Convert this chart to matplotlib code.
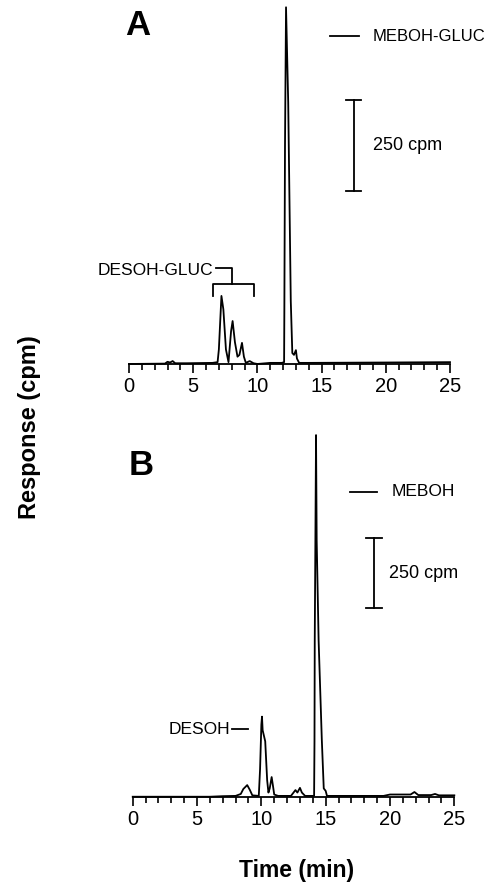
import matplotlib
matplotlib.use("Agg")
import matplotlib.pyplot as plt
from matplotlib.ticker import MultipleLocator

plt.rcParams["font.family"] = ["Liberation Sans", "DejaVu Sans"]

# panel A: glucuronide chromatogram (time in min, response in cpm)
a_time = [0, 2.8, 3.0, 3.2, 3.4, 3.6, 4.5, 6.5, 6.9, 7.0, 7.2, 7.35, 7.55, 7.75,
          7.95, 8.07, 8.25, 8.45, 8.6, 8.8, 8.95, 9.1, 9.4, 9.7, 10.0, 11.0,
          11.9, 12.08, 12.1, 12.15, 12.23, 12.4, 12.5, 12.6, 12.72, 12.85,
          13.0, 13.08, 13.25, 14.0, 20.0, 25.0]
a_cpm = [0, 1, 6, 4, 8, 2, 2, 3, 5, 40, 187, 150, 40, 5,
         90, 118, 60, 20, 25, 58, 20, 3, 8, 2, 0, 3,
         3, 5, 150, 600, 980, 719, 445, 173, 30, 25,
         38, 15, 3, 3, 4, 5]

# panel B: aglycone chromatogram
b_time = [0, 6.0, 7.0, 8.0, 8.4, 8.6, 8.75, 8.9, 9.1, 9.3, 9.8, 9.9, 10.0,
          10.05, 10.1, 10.3, 10.45, 10.55, 10.65, 10.8, 10.9, 11.0, 11.3,
          12.3, 12.5, 12.65, 12.8, 13.0, 13.15, 13.4, 14.1, 14.13, 14.15,
          14.2, 14.25, 14.3, 14.45, 14.7, 14.85, 15.0, 15.1, 19.5, 20.0,
          21.6, 21.9, 22.2, 23.2, 23.5, 23.8, 25.0]
b_cpm = [0, 0, 2, 3, 10, 28, 35, 42, 25, 5, 3, 100, 260,
         289, 240, 200, 60, 15, 30, 71, 40, 8, 3,
         3, 15, 24, 15, 32, 15, 3, 3, 200, 565,
         925, 1305, 925, 565, 205, 30, 21, 3, 3, 8,
         8, 17, 6, 6, 10, 5, 5]

x_ticks = [0, 5, 10, 15, 20, 25]
scale_cpm = 250
LW = 1.3

fig = plt.figure(figsize=(4.91, 8.83), dpi=100)
ax_a = fig.add_axes([0.2627, 0.5878, 0.6538, 0.4122])
ax_b = fig.add_axes([0.2703, 0.0977, 0.6550, 0.4237])


def style_axis(ax, ytop):
    ax.set_xlim(0, 25)
    ax.set_ylim(0, ytop)
    for s in ("left", "right", "top"):
        ax.spines[s].set_visible(False)
    ax.spines["bottom"].set_linewidth(1.3)
    ax.set_yticks([])
    ax.set_xticks(x_ticks)
    ax.xaxis.set_minor_locator(MultipleLocator(1))
    ax.tick_params(axis="x", which="major", direction="out", length=6.5,
                   width=1.2, labelsize=14.5, pad=3)
    ax.tick_params(axis="x", which="minor", direction="out", length=4.3,
                   width=1.2)
    ax.patch.set_visible(False)


def scale_bar(ax, x, y0, label_x):
    ax.plot([x, x], [y0, y0 + scale_cpm], color="black", lw=LW, clip_on=False)
    for y in (y0, y0 + scale_cpm):
        ax.plot([x - 0.6, x + 0.6], [y, y], color="black", lw=LW, clip_on=False)
    ax.text(label_x, y0 + scale_cpm / 2, "250 cpm", fontsize=13, va="center", ha="left")


# ---- panel A
style_axis(ax_a, 1000)
ax_a.plot(a_time, a_cpm, color="black", lw=LW, clip_on=False)
ax_a.text(-0.3, 930, "A", fontsize=25, fontweight="bold",
          va="center", ha="left")
ax_a.plot([15.65, 17.9], [901, 901], color="black", lw=LW)
ax_a.text(19.0, 901, "MEBOH-GLUC", fontsize=12, va="center", ha="left")
scale_bar(ax_a, 17.5, 475, 19.0)
# bracket over the desoh-glucuronide peaks
ax_a.plot([6.57, 6.57, 9.7, 9.7], [187, 220, 220, 187], color="black", lw=LW)
ax_a.plot([8.0, 8.0, 6.8], [220, 264, 264], color="black", lw=LW)
ax_a.text(6.57, 258, "DESOH-GLUC", fontsize=12.5, va="center", ha="right")

# ---- panel B
style_axis(ax_b, 1350)
ax_b.plot(b_time, b_cpm, color="black", lw=LW, clip_on=False)
ax_b.text(-0.3, 1195, "B", fontsize=25, fontweight="bold",
          va="center", ha="left")
ax_b.plot([16.9, 19.0], [1100, 1100], color="black", lw=LW)
ax_b.text(20.1, 1100, "MEBOH", fontsize=12.5, va="center", ha="left")
scale_bar(ax_b, 18.76, 682, 19.93)
ax_b.plot([7.7, 9.0], [244, 244], color="black", lw=LW)
ax_b.text(7.57, 244, "DESOH", fontsize=12.5, va="center", ha="right")

fig.text(30 / 491, 1 - 427 / 883, "Response (cpm)", rotation=90, fontsize=17,
         fontweight="bold", va="center", ha="center")
fig.text(297 / 491, 1 - 870 / 883, "Time (min)", fontsize=16.5,
         fontweight="bold", va="center", ha="center")

fig.savefig("out.png", dpi=100)
